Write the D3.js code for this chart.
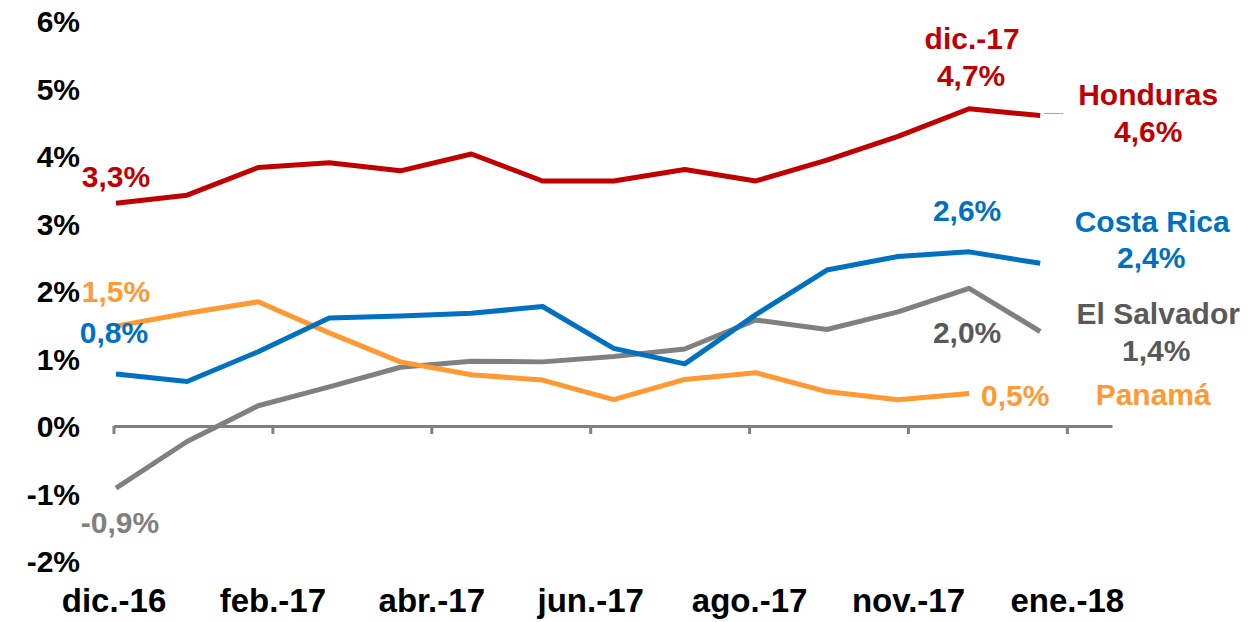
<!DOCTYPE html>
<html>
<head>
<meta charset="utf-8">
<script src="https://cdn.jsdelivr.net/npm/d3@7"></script>
<style>
  html, body { margin: 0; padding: 0; background: #ffffff; }
  svg { display: block; font-family: "Liberation Sans", Arial, sans-serif; font-weight: bold; }
</style>
</head>
<body>
<svg id="chart" width="1258" height="622"></svg>
<script>
// ---- data ----
const months = ["dic.-16","ene.-17","feb.-17","mar.-17","abr.-17","may.-17","jun.-17",
                "jul.-17","ago.-17","sep.-17","oct.-17","nov.-17","dic.-17","ene.-18"];
const honduras   = [3.30, 3.42, 3.83, 3.90, 3.78, 4.03, 3.63, 3.63, 3.80, 3.63, 3.94, 4.29, 4.70, 4.60];
const costaRica  = [0.77, 0.66, 1.10, 1.60, 1.63, 1.67, 1.77, 1.15, 0.92, 1.65, 2.31, 2.51, 2.58, 2.41];
const elSalvador = [-0.92, -0.23, 0.30, 0.58, 0.87, 0.96, 0.95, 1.03, 1.14, 1.57, 1.43, 1.69, 2.04, 1.40];
const panama     = [1.48, 1.67, 1.84, 1.38, 0.95, 0.76, 0.68, 0.39, 0.69, 0.79, 0.51, 0.39, 0.48, null];

const yTicks = [-2, -1, 0, 1, 2, 3, 4, 5, 6];
const xTickLabels = ["dic.-16","feb.-17","abr.-17","jun.-17","ago.-17","nov.-17","ene.-18"];
const xTickAt = [-0.035, 2.2, 4.435, 6.67, 8.905, 11.14, 13.375]; // in month-index units

const colors = { hon: "#C00000", cr: "#0070C0", es: "#808080", pa: "#FF9933", esText: "#595959", axis: "#808080" };

// ---- scales ----
const svg = d3.select("#chart");
const x = d3.scaleLinear().domain([-0.035, 14.01]).range([113.5, 1112]);
const y = d3.scaleLinear().domain([-2, 6]).range([561, 21]);

const locale = d3.formatLocale({ decimal: ",", thousands: ".", grouping: [3], currency: ["", ""], minus: "-" });
const fmt = v => locale.format(".1f")(v) + "%";

// ---- y axis (labels only) ----
const yAxis = svg.append("g")
  .attr("transform", "translate(80,0)")
  .call(d3.axisLeft(y).tickValues(yTicks).tickSize(0).tickPadding(0).tickFormat(d => d + "%"));
yAxis.select(".domain").remove();
yAxis.selectAll("text")
  .attr("font-family", "'Liberation Sans', Arial, sans-serif")
  .attr("font-weight", "bold").attr("font-size", 30).attr("fill", "#000")
  .attr("dy", "0.36em");

// ---- x axis ----
const xAxis = svg.append("g")
  .attr("transform", `translate(0,${y(0)})`)
  .call(d3.axisBottom(x).tickValues(xTickAt).tickSize(8).tickSizeOuter(0)
        .tickFormat((d, i) => xTickLabels[i]));
xAxis.select(".domain").attr("stroke", colors.axis).attr("stroke-width", 3);
xAxis.selectAll(".tick line").attr("stroke", colors.axis).attr("stroke-width", 3);
xAxis.selectAll(".tick text")
  .attr("font-family", "'Liberation Sans', Arial, sans-serif")
  .attr("font-weight", "bold").attr("font-size", 33).attr("fill", "#000")
  .attr("y", 612 - y(0)).attr("dy", 0);

// ---- lines ----
const line = d3.line()
  .defined(d => d != null)
  .x((d, i) => x(i))
  .y(d => y(d));

const series = [
  { data: elSalvador, color: colors.es },
  { data: panama, color: colors.pa },
  { data: costaRica, color: colors.cr },
  { data: honduras, color: colors.hon }
];
series.forEach(s => {
  svg.append("path")
    .datum(s.data)
    .attr("fill", "none")
    .attr("stroke", s.color)
    .attr("stroke-width", 5)
    .attr("stroke-linejoin", "round")
    .attr("d", line);
});

// ---- annotations ----
function label(txt, px, py, color, anchor) {
  svg.append("text")
    .attr("x", px).attr("y", py)
    .attr("text-anchor", anchor || "middle")
    .attr("font-size", 30)
    .attr("font-weight", "bold")
    .attr("fill", color)
    .text(txt);
}
const first = 0, peak = 12, last = 13;

// first-point values
label(fmt(honduras[first]), x(first), y(honduras[first]) - 16, colors.hon);
label(fmt(panama[first]), x(first), y(panama[first]) - 24, colors.pa);
label(fmt(costaRica[first]), x(first) - 2, y(costaRica[first]) - 31, colors.cr);
label(fmt(elSalvador[first]), x(first) + 4, y(elSalvador[first]) + 45, colors.es);

// peak values (dic.-17)
label(months[peak], x(peak) + 3, y(honduras[peak]) - 60, colors.hon);
label(fmt(honduras[peak]), x(peak) + 2, y(honduras[peak]) - 23, colors.hon);
label(fmt(costaRica[peak]), x(peak) - 2, y(costaRica[peak]) - 31, colors.cr);
label(fmt(elSalvador[peak]), x(peak) - 2, y(elSalvador[peak]) + 55, colors.esText);
label(fmt(panama[peak]), x(peak) + 12, y(panama[peak]) + 12, colors.pa, "start");

// leader line Honduras
svg.append("line")
  .attr("x1", x(last) + 4).attr("x2", x(last) + 23)
  .attr("y1", y(honduras[last]) - 2).attr("y2", y(honduras[last]) - 2)
  .attr("stroke", "#A6A6A6").attr("stroke-width", 1);

// series names + last values
const nameX = x(last) + 105;
label("Honduras", nameX + 3, y(honduras[last]) - 11, colors.hon);
label(fmt(honduras[last]), nameX + 3, y(honduras[last]) + 26, colors.hon);
label("Costa Rica", nameX + 7, y(costaRica[last]) - 31, colors.cr);
label(fmt(costaRica[last]), nameX + 6, y(costaRica[last]) + 5, colors.cr);
label("El Salvador", nameX + 13, y(elSalvador[last]) - 8, colors.esText);
label(fmt(elSalvador[last]), nameX + 11, y(elSalvador[last]) + 29, colors.esText);
label("Panamá", nameX + 8, y(panama[peak]) + 11, colors.pa);
</script>
</body>
</html>
